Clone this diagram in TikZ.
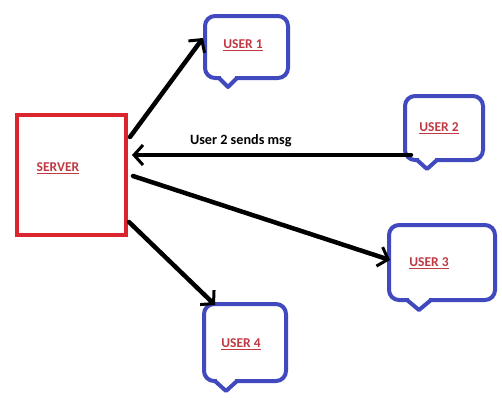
\documentclass[tikz,border=0pt]{standalone}
\usepackage{fontspec}
\setmainfont{Carlito}
\usetikzlibrary{arrows.meta,calc}
\definecolor{srvred}{RGB}{218,36,46}
\definecolor{txtred}{RGB}{192,56,66}
\definecolor{bubblue}{RGB}{64,74,190}
\newcommand\tail[4]{%
  \fill[white] ($(#1.south west)+(#2-#3+2,-3)$) rectangle ($(#1.south west)+(#2+#3-2,3)$);
  \draw[bubblue,line width=4pt,line cap=round,line join=round]
    ($(#1.south west)+(#2-#3,0)$) -- ($(#1.south west)+(#2,#4)$) -- ($(#1.south west)+(#2+#3,0)$);}
\begin{document}
\begin{tikzpicture}[x=1pt,y=-1pt,
  srvbox/.style={draw=srvred,line width=4.5pt,minimum width=109pt,minimum height=120pt,inner sep=0pt,outer sep=0pt},
  bubble/.style={draw=bubblue,line width=4pt,rounded corners=10pt,inner sep=0pt,outer sep=0pt},
  lbl/.style={text=txtred,font=\fontsize{13.5}{15}\selectfont\bfseries,inner sep=1pt},
  msg/.style={text=black,font=\fontsize{14.2}{16}\selectfont\bfseries,inner sep=1pt},
  conn/.style={line width=4.5pt,black,line cap=round,-{Straight Barb[length=9pt,width=20pt,line width=3pt]}}
]
\useasboundingbox (0,0) rectangle (502,405);
% server
\node[srvbox] (srv) at (71.5,175) {};
\node[lbl] (srvlbl) at (58,168) {\underline{SERVER}};
% bubbles
\node[bubble,minimum width=83pt,minimum height=62pt] (u1) at (246.5,47) {};
\node[bubble,minimum width=78pt,minimum height=64pt] (u2) at (444,128) {};
\node[bubble,minimum width=106pt,minimum height=75pt] (u3) at (442,262.5) {};
\node[bubble,minimum width=82pt,minimum height=77pt] (u4) at (245,342.5) {};
% tails
\tail{u1}{23}{9}{9}
\tail{u2}{22}{10}{9}
\tail{u3}{30}{12}{10}
\tail{u4}{22}{11}{10}
% labels
\node[lbl] (t1) at (243,45) {\underline{USER 1}};
\node[lbl] (t2) at (439,128) {\underline{USER 2}};
\node[lbl] (t3) at (429,263) {\underline{USER 3}};
\node[lbl] (t4) at (241,344) {\underline{USER 4}};
% connectors
\draw[conn] ($(srv.north east)+(4,22)$) -- ($(u1.north west)+(-2,22)$);
\draw[conn] ($(u2.south west)+(6,-5)$) -- node[msg,above=5pt,pos=0.61] (m) {User 2 sends msg} ($(srv.north east)+(6,40)$);
\draw[conn] ($(srv.north east)+(7,61)$) -- ($(u3.north west)+(1,35)$);
\draw[conn] ($(srv.north east)+(3,107)$) -- ($(u4.north west)+(11,1)$);
\end{tikzpicture}
\end{document}
